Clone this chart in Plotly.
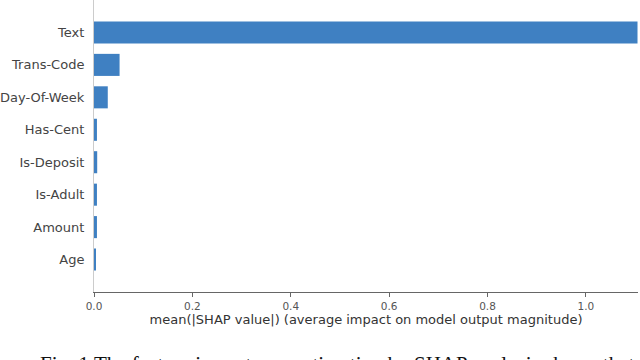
import plotly.graph_objects as go

# mean(|SHAP value|) per feature, bottom to top as drawn
features = ["Age", "Amount", "Is-Adult", "Is-Deposit", "Has-Cent",
            "Day-Of-Week", "Trans-Code", "Text"]
mean_abs_shap = [0.004, 0.006, 0.006, 0.0065, 0.006, 0.028, 0.052, 1.105]

x_ticks = [0.0, 0.2, 0.4, 0.6, 0.8, 1.0]
x_tick_labels = ["0.0", "0.2", "0.4", "0.6", "0.8", "1.0"]

caption = "Fig. 1 The feature importance estimation by SHAP analysis shows that"

fig = go.Figure(go.Bar(
    x=mean_abs_shap,
    y=list(range(len(features))),
    orientation="h",
    width=0.68,
    marker=dict(color="#3f80c2", line=dict(width=0)),
))

fig.update_layout(
    width=640,
    height=360,
    margin=dict(l=92, r=2, t=0, b=68),
    paper_bgcolor="white",
    plot_bgcolor="white",
    showlegend=False,
    font=dict(family="DejaVu Sans", color="#333"),
    xaxis=dict(
        range=[0, 1.106],
        tickvals=x_ticks,
        ticktext=x_tick_labels,
        ticks="outside",
        ticklen=4,
        tickcolor="#666",
        tickfont=dict(size=10.5, color="#555"),
        showline=True,
        linecolor="#666",
        linewidth=1,
        showgrid=False,
        zeroline=False,
        title=dict(
            text="mean(|SHAP value|) (average impact on model output magnitude)",
            font=dict(size=13, color="#333"),
            standoff=3,
        ),
    ),
    yaxis=dict(
        range=[-1, 8],
        tickvals=list(range(len(features))),
        ticktext=features,
        ticks="",
        ticklabelstandoff=6,
        tickfont=dict(size=13, color="#444"),
        showline=True,
        linecolor="#ccc",
        linewidth=1,
        showgrid=False,
        zeroline=False,
    ),
)

# figure caption, cut by the bottom edge as in the source image
fig.add_annotation(
    text=caption,
    xref="paper", yref="paper",
    x=-0.1026, y=-0.197,
    xanchor="left", yanchor="top",
    showarrow=False,
    font=dict(family="Liberation Serif", size=21, color="#111"),
)

# drop the default page margin so the figure sits at the window corner
fig.write_html("out.html", config={"displayModeBar": False},
               post_script="document.body.style.margin='0';")
